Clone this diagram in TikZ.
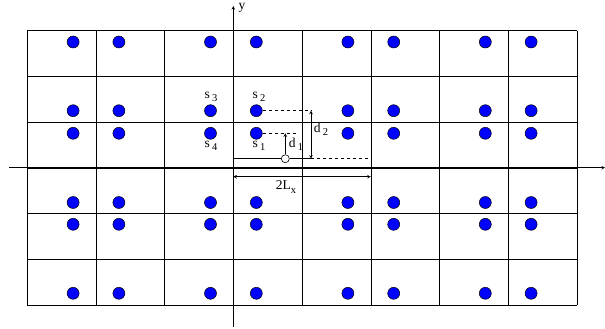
\documentclass[tikz,border=0pt]{standalone}
\usepackage{fontspec}
\setmainfont{Liberation Serif}
\usetikzlibrary{arrows}
\tikzstyle{ion} = [circle, draw=black, fill=blue, minimum size=12pt, inner sep=0pt, line width=0.5pt]
\tikzstyle{origin} = [circle, draw=black, fill=white, minimum size=8pt, inner sep=0pt, line width=0.6pt]
\tikzstyle{lbl} = [inner sep=0pt, font=\fontsize{13.5}{15}\selectfont]
\tikzstyle{arrow} = [line width=0.6pt,->,>=stealth]
\tikzstyle{darrow} = [line width=0.6pt,<->,>=stealth]
\newcommand{\lowidx}[1]{\,\raisebox{-0.45ex}{\fontsize{10.5}{12}\selectfont #1}}

\begin{document}
\begin{tikzpicture}[x=1pt, y=-1pt, line width=0.6pt]
    \useasboundingbox (0,0) rectangle (605,329);

    % cells
    \foreach \i in {0,...,8}
        \draw (27.3+68.7*\i,30.7) -- (27.3+68.7*\i,305);
    \foreach \j in {0,...,6}
        \draw (27.3,30.7+45.72*\j) -- (577,30.7+45.72*\j);

    % axes
    \coordinate (xstart) at (9,167.7);
    \coordinate (xend) at (605,167.7);
    \coordinate (ystart) at (233.3,327);
    \coordinate (yend) at (233.3,6);
    \draw [arrow] (xstart) -- (xend);
    \draw [arrow] (ystart) -- (yend);
    \node (ylabel) [lbl] at (242,8) {y};

    % ions
    \foreach \col [count=\c] in {73.1,118.9,210.5,256.3,347.9,393.7,485.3,531.1}
        \foreach \row [count=\r] in {42,110.7,133.3,202.5,224.3,293.3}
            \node (p\c\r) [ion] at (\col,\row) {};

    \node (s1) [lbl] at (259,146) {s\lowidx{1}};
    \node (s2) [lbl] at (259,97) {s\lowidx{2}};
    \node (s3) [lbl] at (211,97) {s\lowidx{3}};
    \node (s4) [lbl] at (211,146) {s\lowidx{4}};

    % distances
    \node (orig) [origin] at (285.3,158.7) {};
    \coordinate (d1top) at (296,133.3);
    \coordinate (d1tip) at (285.3,133.3);
    \coordinate (d2top) at (311,110.7);
    \coordinate (d2bot) at (311,158.7);
    \coordinate (cellleft) at (233.3,158.7);
    \coordinate (cellright) at (370.8,158.7);
    \coordinate (lxleft) at (233.3,176.7);
    \coordinate (lxright) at (370.8,176.7);

    \draw [dashed] (p42) -- (d2top);
    \draw [dashed] (p43) -- (d1top);
    \draw [arrow] (orig) -- (d1tip);
    \draw [darrow] (d2top) -- (d2bot);
    \draw (cellleft) -- (orig) -- (d2bot);
    \draw [dashed] (d2bot) -- (cellright);
    \draw [darrow] (lxleft) -- (lxright);

    \node (d1) [lbl] at (296,144) {d\lowidx{1}};
    \node (d2) [lbl] at (321,129) {d\lowidx{2}};
    \node (lx) [lbl] at (286,187) {2L\raisebox{-0.5ex}{\fontsize{10.5}{12}\selectfont x}};

\end{tikzpicture}
\end{document}
